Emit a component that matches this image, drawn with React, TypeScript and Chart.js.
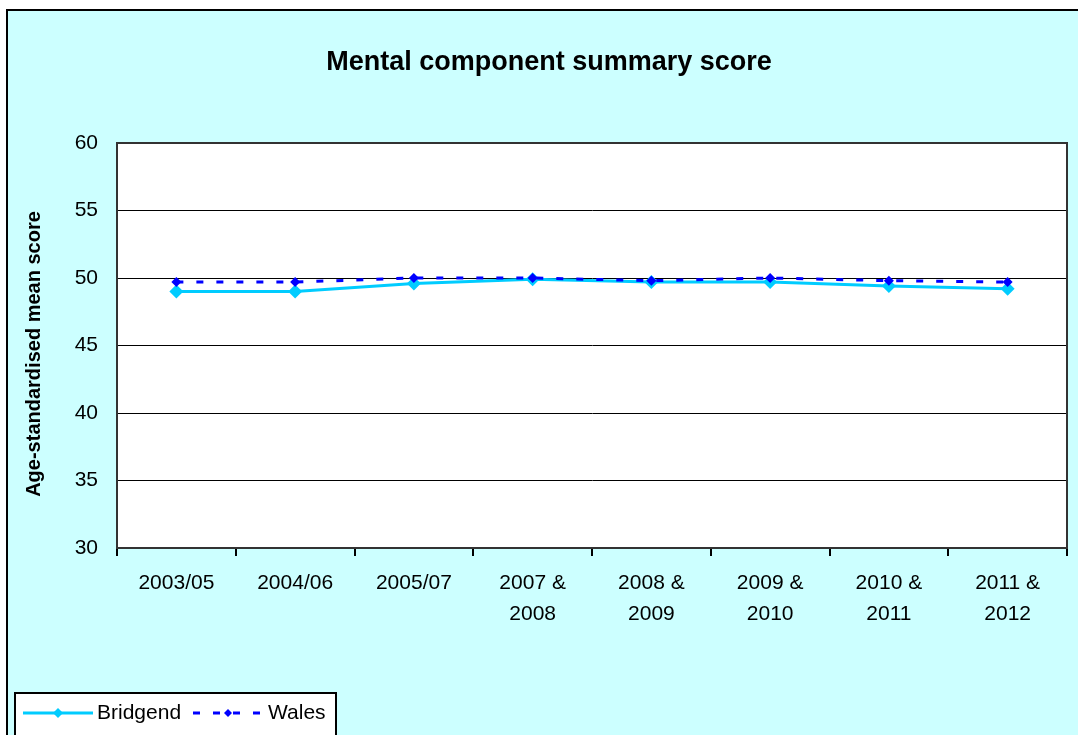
import React, { useEffect, useRef } from "react";
import { Chart, registerables } from "chart.js";

Chart.register(...registerables);

const categories: (string | string[])[] = [
  "2003/05",
  "2004/06",
  "2005/07",
  ["2007 &", "2008"],
  ["2008 &", "2009"],
  ["2009 &", "2010"],
  ["2010 &", "2011"],
  ["2011 &", "2012"],
];
const bridgend = [49.0, 49.0, 49.6, 49.9, 49.7, 49.7, 49.4, 49.2];
const wales = [49.7, 49.7, 50.0, 50.0, 49.8, 50.0, 49.8, 49.7];
const yTicks = { min: 30, max: 60, step: 5 };

const FONT = "'Liberation Sans', Arial, sans-serif";
const CYAN_BG = "#CCFFFF";
const BRIDGEND_COLOR = "#00CCFF";
const WALES_COLOR = "#0000FF";

const framePlugin = {
  id: "frame",
  beforeDraw(chart: any) {
    const { ctx, width, height, chartArea } = chart;
    ctx.save();
    ctx.fillStyle = "#FFFFFF";
    ctx.fillRect(0, 0, width, height);
    ctx.fillStyle = CYAN_BG;
    ctx.fillRect(7, 10, width - 7, height - 10);
    ctx.strokeStyle = "#000000";
    ctx.lineWidth = 2;
    ctx.beginPath();
    ctx.moveTo(7, height);
    ctx.lineTo(7, 10);
    ctx.lineTo(width, 10);
    ctx.stroke();
    ctx.fillStyle = "#FFFFFF";
    ctx.fillRect(chartArea.left, chartArea.top, chartArea.right - chartArea.left, chartArea.bottom - chartArea.top);
    ctx.restore();
  },
  beforeDatasetsDraw(chart: any) {
    const { ctx, chartArea } = chart;
    ctx.save();
    ctx.strokeStyle = "#333333";
    ctx.lineWidth = 2;
    ctx.strokeRect(chartArea.left, chartArea.top, chartArea.right - chartArea.left, chartArea.bottom - chartArea.top);
    ctx.restore();
  },
  afterDraw(chart: any) {
    const { ctx, chartArea } = chart;
    ctx.save();
    // Title
    ctx.fillStyle = "#000000";
    ctx.font = `bold 27px ${FONT}`;
    ctx.textAlign = "center";
    ctx.textBaseline = "middle";
    ctx.fillText("Mental component summary score", 549, 63);
    // Y axis title
    ctx.save();
    ctx.translate(34, 354);
    ctx.rotate(-Math.PI / 2);
    ctx.font = `bold 20px ${FONT}`;
    ctx.fillText("Age-standardised mean score", 0, 0);
    ctx.restore();

    // Legend
    const lx = 15, ly = 693, lw = 321, lh = 60;
    ctx.fillStyle = "#FFFFFF";
    ctx.fillRect(lx, ly, lw, lh);
    ctx.strokeStyle = "#000000";
    ctx.lineWidth = 2;
    ctx.strokeRect(lx, ly, lw, lh);
    const cy = 713;
    const diamond = (x: number, y: number, r: number, color: string) => {
      ctx.fillStyle = color;
      ctx.beginPath();
      ctx.moveTo(x, y - r);
      ctx.lineTo(x + r, y);
      ctx.lineTo(x, y + r);
      ctx.lineTo(x - r, y);
      ctx.closePath();
      ctx.fill();
    };
    ctx.strokeStyle = BRIDGEND_COLOR;
    ctx.lineWidth = 3;
    ctx.beginPath();
    ctx.moveTo(23, cy);
    ctx.lineTo(93, cy);
    ctx.stroke();
    diamond(58, cy, 5, BRIDGEND_COLOR);
    ctx.strokeStyle = WALES_COLOR;
    ctx.setLineDash([7, 13]);
    ctx.beginPath();
    ctx.moveTo(193, cy);
    ctx.lineTo(263, cy);
    ctx.stroke();
    ctx.setLineDash([]);
    diamond(228, cy, 4, WALES_COLOR);
    ctx.fillStyle = "#000000";
    ctx.font = `21px ${FONT}`;
    ctx.textAlign = "left";
    ctx.textBaseline = "middle";
    ctx.fillText("Bridgend", 97, cy);
    ctx.fillText("Wales", 268, cy);
    ctx.restore();
  },
};

export default function App() {
  const canvasRef = useRef<HTMLCanvasElement | null>(null);

  useEffect(() => {
    if (!canvasRef.current) return;
    const chart = new Chart(canvasRef.current, {
      type: "line",
      data: {
        labels: categories,
        datasets: [
          {
            label: "Bridgend",
            data: bridgend,
            borderColor: BRIDGEND_COLOR,
            backgroundColor: BRIDGEND_COLOR,
            borderWidth: 3,
            pointStyle: "rectRot",
            pointRadius: 7,
            pointBorderWidth: 0,
            tension: 0,
            order: 2,
          },
          {
            label: "Wales",
            data: wales,
            borderColor: WALES_COLOR,
            backgroundColor: WALES_COLOR,
            borderWidth: 3,
            borderDash: [7, 13],
            pointStyle: "rectRot",
            pointRadius: 5,
            pointBorderWidth: 0,
            tension: 0,
            order: 1,
          },
        ],
      },
      options: {
        animation: false,
        responsive: false,
        devicePixelRatio: 1,
        layout: { padding: { top: 143, right: 11, bottom: 0, left: 0 } },
        plugins: {
          legend: { display: false },
          title: { display: false },
          tooltip: { enabled: false },
        },
        scales: {
          x: {
            offset: true,
            grid: {
              offset: true,
              drawOnChartArea: false,
              drawTicks: true,
              tickLength: 8,
              color: "#000000",
              lineWidth: 2,
            },
            border: { color: "#333333", width: 2 },
            ticks: {
              color: "#000000",
              font: { family: FONT, size: 21, lineHeight: 1.48 },
              padding: 12,
              maxRotation: 0,
              autoSkip: false,
            },
            afterFit(scale: any) {
              scale.height = 187;
            },
          },
          y: {
            min: yTicks.min,
            max: yTicks.max,
            grid: {
              color: "#000000",
              lineWidth: 1,
              drawTicks: false,
            },
            border: { color: "#333333", width: 2 },
            ticks: {
              stepSize: yTicks.step,
              color: "#000000",
              font: { family: FONT, size: 21 },
              padding: 19,
            },
            afterFit(scale: any) {
              scale.width = 117;
            },
          },
        },
      },
      plugins: [framePlugin],
    });
    return () => chart.destroy();
  }, []);

  return (
    <div style={{ position: "absolute", left: 0, top: 0, width: 1078, height: 735 }}>
      <canvas ref={canvasRef} width={1078} height={735} />
    </div>
  );
}
